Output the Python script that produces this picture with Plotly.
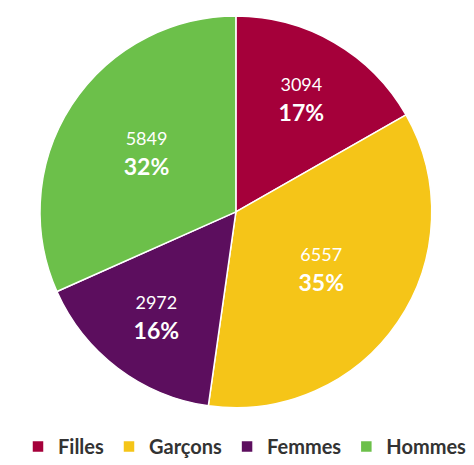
import plotly.graph_objects as go

categories = ["Filles", "Garçons", "Femmes", "Hommes"]
values = [3094, 6557, 2972, 5849]
colors = ["#A5003A", "#F5C518", "#5C0E5E", "#6CC04A"]

fig = go.Figure(go.Pie(
    labels=categories,
    values=values,
    sort=False,
    direction="clockwise",
    rotation=0,
    marker=dict(colors=colors, line=dict(color="white", width=1.5)),
    texttemplate="<span style='font-size:18px'>%{value}</span><br><b>%{percent:.0%}</b>",
    textposition="inside",
    insidetextorientation="horizontal",
    textfont=dict(color="white", size=23, family="Lato"),
    hoverinfo="label+value+percent",
    domain=dict(x=[0.0675, 0.894], y=[0.14, 0.983]),
))

fig.update_layout(
    width=474, height=465,
    margin=dict(l=0, r=0, t=0, b=0),
    paper_bgcolor="white",
    showlegend=True,
    legend=dict(
        orientation="h", x=0.5, xanchor="center", y=0.057, yanchor="middle",
        font=dict(size=20, color="#333333", family="Lato", weight="bold"),
        itemwidth=30, traceorder="normal",
    ),
    font=dict(family="Lato"),
)

fig.write_html("out.html")
